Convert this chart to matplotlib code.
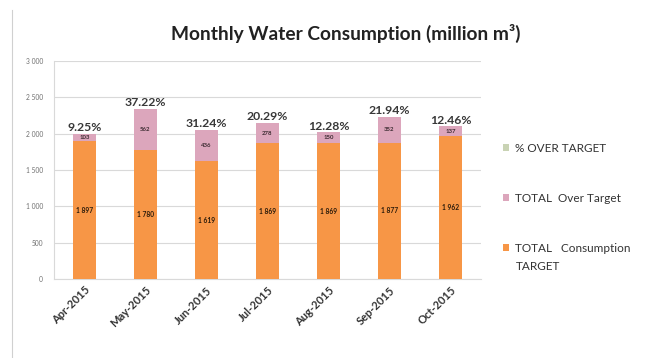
import matplotlib
matplotlib.use("Agg")
import matplotlib.pyplot as plt
from matplotlib.lines import Line2D
from matplotlib.ticker import FuncFormatter, MultipleLocator

months = ["Apr-2015", "May-2015", "Jun-2015", "Jul-2015", "Aug-2015", "Sep-2015", "Oct-2015"]
target = [1897, 1780, 1619, 1869, 1869, 1877, 1962]
over = [103, 562, 436, 278, 150, 352, 137]
pct_over = [9.25, 37.22, 31.24, 20.29, 12.28, 21.94, 12.46]

c_orange = "#F79646"
c_pink = "#DCA6BC"
c_green = "#C9D3B4"

plt.rcParams['font.family'] = ['Lato', 'DejaVu Sans']

fig = plt.figure(figsize=(6.70, 3.58), dpi=100)
fig.lines.append(Line2D([12/670, 12/670], [0, 1 - 10/358], transform=fig.transFigure,
                        color="#D0D0D0", linewidth=0.8))

ax = fig.add_axes([54/670, 1 - 279/358, (481-54)/670, (279-61)/358])
x = list(range(len(months)))
w = 0.38
b1 = ax.bar(x, target, width=w, color=c_orange, zorder=3)
b2 = ax.bar(x, over, width=w, bottom=target, color=c_pink, zorder=3)
tot = [t + o for t, o in zip(target, over)]
b3 = ax.bar(x, [0.0001 * p for p in pct_over], width=w, bottom=tot, color=c_green, zorder=3)

def fmt_thou(v):
    v = int(round(v))
    return f"{v:,}".replace(",", " ")

for i in x:
    ax.text(i, target[i] / 2, fmt_thou(target[i]), ha="center", va="center", fontsize=4.8,
            color="#2a1a0a", fontweight="bold", zorder=4)
    ax.text(i, target[i] + over[i] / 2, fmt_thou(over[i]), ha="center", va="center", fontsize=4.3,
            color="#3a2a30", fontweight="bold", zorder=4)
    ax.annotate(f"{pct_over[i]:.2f}%", (i, tot[i]), xytext=(0, 0.5), textcoords="offset points",
                ha="center", va="bottom", fontsize=8.8, color="#383838", fontweight="bold", zorder=5)

ax.set_ylim(0, 3000)
ax.set_xlim(-0.5, len(months) - 0.5)
ax.yaxis.set_major_locator(MultipleLocator(500))
ax.yaxis.set_major_formatter(FuncFormatter(lambda v, p: fmt_thou(v)))
ax.grid(axis="y", color="#D9D9D9", linewidth=0.8, zorder=0)
ax.set_axisbelow(True)
ax.tick_params(axis="y", labelsize=4.8, labelcolor="#707070", length=0, pad=8)
ax.tick_params(axis="x", labelsize=8, labelcolor="#333333", length=0, pad=4)
ax.set_xticks(x)
ax.set_xticklabels(months, rotation=45, ha="right", rotation_mode="anchor", fontweight="bold")
for s in ["top", "right"]:
    ax.spines[s].set_visible(False)
ax.spines["left"].set_color("#D9D9D9")
ax.spines["bottom"].set_color("#D9D9D9")

fig.text(346/670, 1 - 33/358, "Monthly Water Consumption (million m³)", ha="center", va="center",
         fontsize=13.8, fontweight="bold", color="#222222")

handles = [b3, b2, b1]
labels = ["% OVER TARGET", "TOTAL  Over Target", "TOTAL   Consumption"]
leg = fig.legend(handles, labels, loc="upper left", bbox_to_anchor=(498/670, 1 - 138/358),
                 frameon=False, fontsize=8.5, handlelength=0.55, handleheight=0.55,
                 handletextpad=0.5, labelspacing=3.3, labelcolor="#333333",
                 borderaxespad=0)
fig.text(516/670, 1 - 267/358, "TARGET", ha="left", va="center", fontsize=8.5, color="#333333")

fig.savefig("out.png", dpi=100)
